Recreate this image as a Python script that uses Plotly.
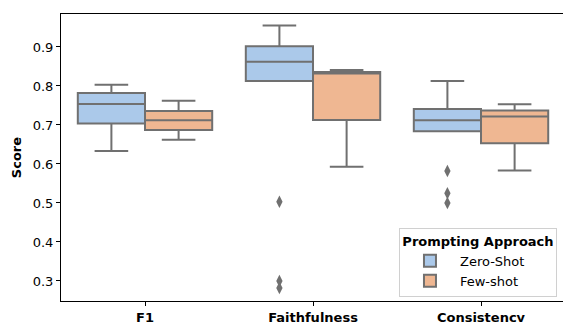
import plotly.graph_objects as go

categories = ["F1", "Faithfulness", "Consistency"]

zero_low = [0.633, 0.813, 0.684]
zero_q1 = [0.704, 0.813, 0.684]
zero_median = [0.754, 0.862, 0.712]
zero_q3 = [0.782, 0.902, 0.741]
zero_high = [0.803, 0.955, 0.813]
zero_outliers = [[], [0.503, 0.300, 0.282], [0.582, 0.525, 0.500]]

few_low = [0.662, 0.593, 0.583]
few_q1 = [0.687, 0.713, 0.653]
few_median = [0.712, 0.832, 0.722]
few_q3 = [0.736, 0.836, 0.737]
few_high = [0.762, 0.841, 0.753]
few_outliers = [[], [], []]

y_ticks = [0.3, 0.4, 0.5, 0.6, 0.7, 0.8, 0.9]

ZERO_COLOR = "#abc9ea"
FEW_COLOR = "#efb792"
LINE = "#707070"
FONT = "DejaVu Sans"

fig = go.Figure()

series = [
    ("Zero-Shot", -0.2, ZERO_COLOR, zero_low, zero_q1, zero_median, zero_q3, zero_high, zero_outliers),
    ("Few-shot", 0.2, FEW_COLOR, few_low, few_q1, few_median, few_q3, few_high, few_outliers),
]

for name, off, color, lo, q1, med, q3, hi, outs in series:
    xs = [i + off for i in range(len(categories))]
    fig.add_trace(go.Box(
        name=name,
        x=xs,
        q1=q1, median=med, q3=q3, lowerfence=lo, upperfence=hi,
        width=0.4,
        whiskerwidth=0.5,
        fillcolor=color,
        line=dict(color=LINE, width=2),
        boxpoints=False,
        showlegend=True,
        hoverinfo="skip",
    ))
    ox, oy = [], []
    for i, vals in enumerate(outs):
        for v in vals:
            ox.append(i + off)
            oy.append(v)
    if ox:
        fig.add_trace(go.Scatter(
            x=ox, y=oy, mode="markers",
            marker=dict(symbol="diamond-tall", size=9, color=LINE),
            showlegend=False, hoverinfo="skip",
        ))

fig.update_layout(
    width=563, height=322,
    margin=dict(l=61, r=0, t=14, b=21, autoexpand=False),
    paper_bgcolor="white", plot_bgcolor="white",
    font=dict(family=FONT, size=13, color="black"),
    legend=dict(
        title=dict(text="<b>Prompting Approach</b>", font=dict(size=13), side="top center"),
        x=0.988, xanchor="right", y=0.014, yanchor="bottom",
        bgcolor="white", bordercolor="#d0d0d0", borderwidth=1,
        font=dict(size=13), tracegroupgap=0, itemwidth=50,
    ),
)

fig.update_xaxes(
    range=[-0.5, 2.488],
    tickvals=list(range(len(categories))),
    ticktext=["<b>%s</b>" % c for c in categories],
    ticks="outside", ticklen=4, tickcolor="black",
    showline=True, linecolor="black", linewidth=1, mirror=True,
    showgrid=False, zeroline=False, automargin=False,
)
fig.update_yaxes(
    range=[0.2487, 0.9846],
    tickvals=y_ticks,
    ticktext=["%.1f" % v for v in y_ticks],
    ticks="outside", ticklen=4, tickcolor="black",
    showline=True, linecolor="black", linewidth=1, mirror=False,
    showgrid=False, zeroline=False, automargin=False,
    title=dict(text="<b>Score</b>", font=dict(size=13), standoff=8),
)

fig.write_html(
    "out.html",
    config={"displayModeBar": False},
    post_script="document.body.style.margin='0';document.body.style.overflow='hidden';",
)
